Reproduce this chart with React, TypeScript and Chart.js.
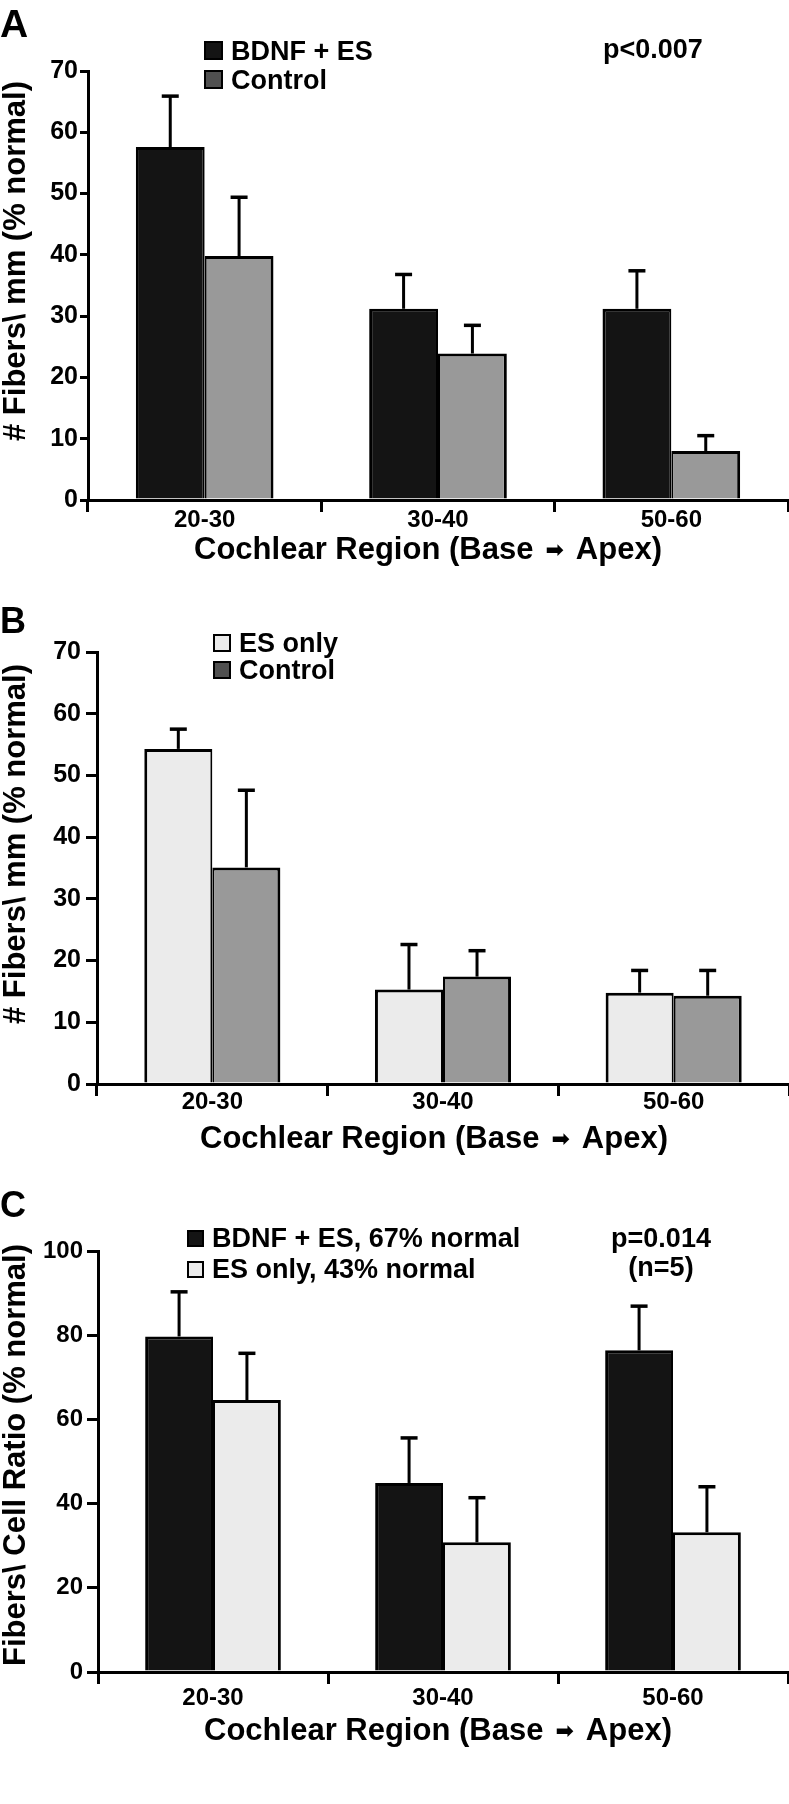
import React, { useEffect, useRef } from 'react';
import { Chart, registerables } from 'chart.js';

Chart.register(...registerables);

const FONT = "'Liberation Sans', Arial, Helvetica, sans-serif";

// Shared categories
const categories = ['20-30', '30-40', '50-60'];

// Panel A: BDNF + ES vs Control
const aBdnfEs = [57.6, 31.2, 31.2];
const aBdnfEsErr = [8.3, 5.6, 6.2];
const aControl = [39.8, 23.9, 8.0];
const aControlErr = [9.6, 4.6, 2.5];

// Panel B: ES only vs Control
const bEsOnly = [54.3, 15.3, 14.8];
const bEsOnlyErr = [3.2, 7.3, 3.6];
const bControl = [35.1, 17.4, 14.3];
const bControlErr = [12.5, 4.2, 4.1];

// Panel C: BDNF + ES vs ES only
const cBdnfEs = [79.7, 44.9, 76.4];
const cBdnfEsErr = [10.6, 10.7, 10.5];
const cEsOnly = [64.6, 30.8, 33.2];
const cEsOnlyErr = [11.1, 10.6, 10.8];

const xTitleLeft = 'Cochlear Region (Base';
const xTitleArrow = '\u27A1';
const xTitleRight = 'Apex)';
const yTitleAB = '# Fibers\\ mm (% normal)';
const yTitleC = 'Fibers\\ Cell Ratio (% normal)';

const BLACK = '#141414';
const GRAY = '#999999';
const LIGHT = '#ebebeb';
const DARK = '#505050';

type PanelCfg = {
  height: number;
  letter: string;
  letterSize: number;
  letterBase: number;
  labels: string[];
  values: number[][];
  errors: number[][];
  fills: string[];
  legendFills: string[];
  legendX: number;
  legendTextX: number;
  legendBase: number[];
  legendSquare: number;
  notes: { text: string; x: number; y: number; align: CanvasTextAlign }[];
  max: number;
  step: number;
  top: number;
  bottom: number;
  left: number;
  right: number;
  yTickLen: number;
  yTickPad: number;
  yTickSize: number;
  xTickPad: number;
  yTitle: string;
  yTitleY: number;
  xTitleX: number;
  xTitleY: number;
};

const panels: PanelCfg[] = [
  {
    height: 580,
    letter: 'A',
    letterSize: 39,
    letterBase: 37,
    labels: ['BDNF + ES', 'Control'],
    values: [aBdnfEs, aControl],
    errors: [aBdnfEsErr, aControlErr],
    fills: [BLACK, GRAY],
    legendFills: [BLACK, DARK],
    legendX: 204,
    legendTextX: 231,
    legendBase: [60, 89],
    legendSquare: 19,
    notes: [{ text: 'p<0.007', x: 603, y: 58, align: 'left' }],
    max: 70,
    step: 10,
    top: 71,
    bottom: 500,
    left: 88,
    right: 788,
    yTickLen: 8,
    yTickPad: 2,
    yTickSize: 25,
    xTickPad: -6,
    yTitle: yTitleAB,
    yTitleY: 261,
    xTitleX: 428,
    xTitleY: 550,
  },
  {
    height: 580,
    letter: 'B',
    letterSize: 36,
    letterBase: 53,
    labels: ['ES only', 'Control'],
    values: [bEsOnly, bControl],
    errors: [bEsOnlyErr, bControlErr],
    fills: [LIGHT, GRAY],
    legendFills: [LIGHT, DARK],
    legendX: 213,
    legendTextX: 239,
    legendBase: [72, 99],
    legendSquare: 18,
    notes: [],
    max: 70,
    step: 10,
    top: 72,
    bottom: 504,
    left: 97,
    right: 793,
    yTickLen: 11,
    yTickPad: 5,
    yTickSize: 25,
    xTickPad: -8,
    yTitle: yTitleAB,
    yTitleY: 264,
    xTitleX: 434,
    xTitleY: 559,
  },
  {
    height: 644,
    letter: 'C',
    letterSize: 36,
    letterBase: 57,
    labels: ['BDNF + ES, 67% normal', 'ES only, 43% normal'],
    values: [cBdnfEs, cEsOnly],
    errors: [cBdnfEsErr, cEsOnlyErr],
    fills: [BLACK, LIGHT],
    legendFills: [BLACK, LIGHT],
    legendX: 187,
    legendTextX: 212,
    legendBase: [87, 118],
    legendSquare: 17,
    notes: [
      { text: 'p=0.014', x: 661, y: 87, align: 'center' },
      { text: '(n=5)', x: 661, y: 116, align: 'center' },
    ],
    max: 100,
    step: 20,
    top: 91,
    bottom: 512,
    left: 98,
    right: 788,
    yTickLen: 11,
    yTickPad: 4,
    yTickSize: 24,
    xTickPad: 0,
    yTitle: yTitleC,
    yTitleY: 295,
    xTitleX: 438,
    xTitleY: 571,
  },
];

function drawXTitle(ctx: CanvasRenderingContext2D, cx: number, cy: number) {
  ctx.font = `bold 31px ${FONT}`;
  const gap = 12;
  const wl = ctx.measureText(xTitleLeft).width;
  const wr = ctx.measureText(xTitleRight).width;
  ctx.font = `bold 22px 'DejaVu Sans', ${FONT}`;
  const wa = ctx.measureText(xTitleArrow).width;
  const total = wl + gap + wa + gap + wr;
  let x = cx - total / 2;
  ctx.textAlign = 'left';
  ctx.textBaseline = 'middle';
  ctx.font = `bold 31px ${FONT}`;
  ctx.fillText(xTitleLeft, x, cy);
  x += wl + gap;
  ctx.font = `bold 22px 'DejaVu Sans', ${FONT}`;
  ctx.fillText(xTitleArrow, x, cy + 1);
  x += wa + gap;
  ctx.font = `bold 31px ${FONT}`;
  ctx.fillText(xTitleRight, x, cy);
}

function decorPlugin(cfg: PanelCfg) {
  return {
    id: 'decor',
    afterDatasetsDraw(chart: any) {
      const ctx = chart.ctx;
      const ys = chart.scales.y;
      ctx.save();
      ctx.strokeStyle = '#000';
      chart.data.datasets.forEach((ds: any, i: number) => {
        const meta = chart.getDatasetMeta(i);
        const errs = cfg.errors[i];
        meta.data.forEach((bar: any, j: number) => {
          const top = ys.getPixelForValue(ds.data[j] + errs[j]);
          ctx.lineWidth = 3;
          ctx.beginPath();
          ctx.moveTo(bar.x, bar.y);
          ctx.lineTo(bar.x, top);
          ctx.stroke();
          ctx.lineWidth = 3.5;
          ctx.beginPath();
          ctx.moveTo(bar.x - 8.5, top);
          ctx.lineTo(bar.x + 8.5, top);
          ctx.stroke();
        });
      });
      ctx.restore();
    },
    afterDraw(chart: any) {
      const ctx = chart.ctx;
      ctx.save();
      ctx.fillStyle = '#000';
      // panel letter
      ctx.font = `bold ${cfg.letterSize}px ${FONT}`;
      ctx.textAlign = 'left';
      ctx.textBaseline = 'alphabetic';
      ctx.fillText(cfg.letter, 0, cfg.letterBase);
      // legend
      ctx.font = `bold 27px ${FONT}`;
      chart.data.datasets.forEach((ds: any, i: number) => {
        const base = cfg.legendBase[i];
        const s = cfg.legendSquare;
        ctx.fillStyle = cfg.legendFills[i];
        ctx.fillRect(cfg.legendX, base - s, s, s);
        ctx.strokeStyle = '#000';
        ctx.lineWidth = 2;
        ctx.strokeRect(cfg.legendX + 1, base - s + 1, s - 2, s - 2);
        ctx.fillStyle = '#000';
        ctx.fillText(ds.label, cfg.legendTextX, base);
      });
      // notes
      cfg.notes.forEach((n) => {
        ctx.textAlign = n.align;
        ctx.fillText(n.text, n.x, n.y);
      });
      // x title
      drawXTitle(ctx, cfg.xTitleX, cfg.xTitleY);
      // y title
      ctx.font = `bold 31px ${FONT}`;
      ctx.textAlign = 'center';
      ctx.textBaseline = 'middle';
      ctx.translate(16, cfg.yTitleY);
      ctx.rotate(-Math.PI / 2);
      ctx.fillText(cfg.yTitle, 0, 0);
      ctx.restore();
    },
  };
}

function Panel({ cfg }: { cfg: PanelCfg }) {
  const ref = useRef<HTMLCanvasElement | null>(null);
  useEffect(() => {
    if (!ref.current) return;
    const W = 789;
    const chart = new Chart(ref.current, {
      type: 'bar',
      data: {
        labels: categories,
        datasets: cfg.values.map((v, i) => ({
          label: cfg.labels[i],
          data: v,
          backgroundColor: cfg.fills[i],
          borderColor: '#000',
          borderWidth: i === 0 ? { top: 3, left: 3, right: 2, bottom: 0 } : { top: 3, left: 2, right: 3, bottom: 0 },
          borderSkipped: 'start',
          categoryPercentage: 0.59,
          barPercentage: 1.0,
        })),
      },
      options: {
        responsive: false,
        animation: false,
        events: [],
        layout: { padding: { top: cfg.top, left: 0, right: W - cfg.right, bottom: 0 } },
        plugins: {
          legend: { display: false },
          tooltip: { enabled: false },
          title: { display: false },
        },
        scales: {
          x: {
            grid: {
              offset: true,
              drawOnChartArea: false,
              drawTicks: true,
              tickLength: 12,
              lineWidth: 3,
              color: '#000',
            },
            border: { display: true, width: 3, color: '#000' },
            ticks: {
              color: '#000',
              font: { family: FONT, size: 24, weight: 'bold' },
              padding: cfg.xTickPad,
              maxRotation: 0,
              autoSkip: false,
            },
            afterFit: (s: any) => {
              s.height = cfg.height - cfg.bottom;
            },
          },
          y: {
            min: 0,
            max: cfg.max,
            ticks: {
              stepSize: cfg.step,
              color: '#000',
              font: { family: FONT, size: cfg.yTickSize, weight: 'bold' },
              padding: cfg.yTickPad,
            },
            grid: {
              drawOnChartArea: false,
              drawTicks: true,
              tickLength: cfg.yTickLen,
              lineWidth: 3,
              color: '#000',
            },
            border: { display: true, width: 3, color: '#000' },
            afterFit: (s: any) => {
              s.width = cfg.left;
            },
          },
        },
      } as any,
      plugins: [decorPlugin(cfg)],
    });
    return () => chart.destroy();
  }, [cfg]);
  return <canvas ref={ref} width={789} height={cfg.height} style={{ display: 'block', width: 789, height: cfg.height }} />;
}

export default function App() {
  return (
    <div style={{ position: 'absolute', left: 0, top: 0, width: 789, height: 1804, background: '#fff' }}>
      {panels.map((p) => (
        <Panel key={p.letter} cfg={p} />
      ))}
    </div>
  );
}
